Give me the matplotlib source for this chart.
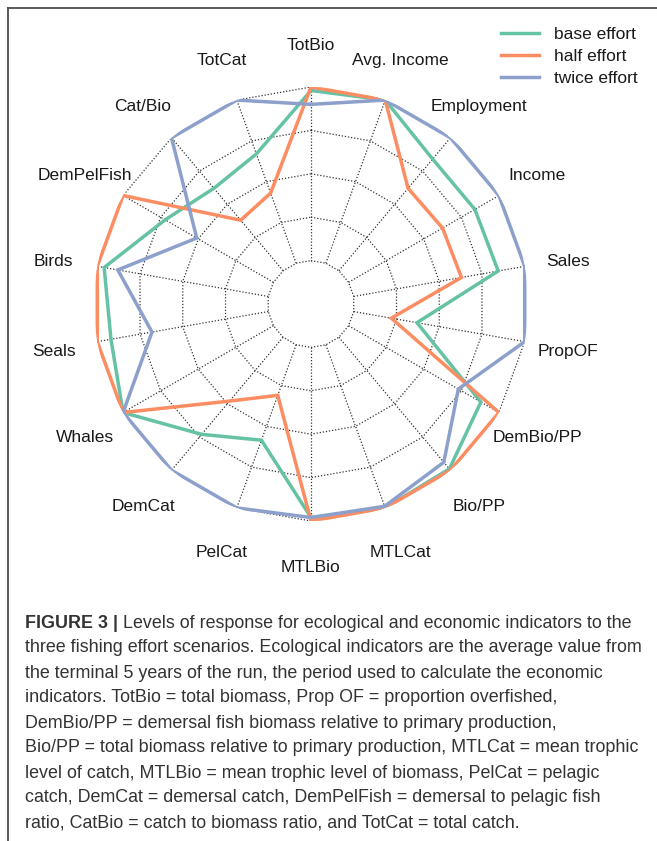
import numpy as np
import matplotlib
matplotlib.use("Agg")
import matplotlib.pyplot as plt
from matplotlib.lines import Line2D
from matplotlib.transforms import ScaledTranslation

plt.rcParams['font.family'] = ['Liberation Sans', 'DejaVu Sans']

indicators = ["TotBio", "Avg. Income", "Employment", "Income", "Sales", "PropOF",
              "DemBio/PP", "Bio/PP", "MTLCat", "MTLBio", "PelCat", "DemCat",
              "Whales", "Seals", "Birds", "DemPelFish", "Cat/Bio", "TotCat"]

base_effort = [0.98, 1.00, 0.84, 0.84, 0.845, 0.37, 0.88, 0.99, 1.00, 0.98,
               0.585, 0.73, 1.00, 0.92, 0.96, 0.72, 0.62, 0.67]
half_effort = [1.00, 1.00, 0.62, 0.625, 0.63, 0.22, 1.00, 1.00, 1.00, 1.00,
               0.31, 0.48, 1.00, 1.00, 1.00, 1.00, 0.38, 0.43]
twice_effort = [0.90, 1.00, 1.00, 1.00, 1.00, 1.00, 0.73, 0.94, 0.99, 0.98,
                1.00, 1.00, 1.00, 0.68, 0.88, 0.51, 1.00, 1.00]

series_names = ["base effort", "half effort", "twice effort"]
series_colors = ["#66c2a5", "#fc8d62", "#8da0cb"]
grid_levels = [0.0, 0.25, 0.5, 0.75, 1.0]

caption_bold = "FIGURE 3 |"
caption_lines = [
    " Levels of response for ecological and economic indicators to the",
    "three fishing effort scenarios. Ecological indicators are the average value from",
    "the terminal 5 years of the run, the period used to calculate the economic",
    "indicators. TotBio = total biomass, Prop OF = proportion overfished,",
    "DemBio/PP = demersal fish biomass relative to primary production,",
    "Bio/PP = total biomass relative to primary production, MTLCat = mean trophic",
    "level of catch, MTLBio = mean trophic level of biomass, PelCat = pelagic",
    "catch, DemCat = demersal catch, DemPelFish = demersal to pelagic fish",
    "ratio, CatBio = catch to biomass ratio, and TotCat = total catch.",
]

W, H = 657, 841
fig = plt.figure(figsize=(W / 100, H / 100), dpi=100)

# polar panel, centre hole of a quarter unit
cx, cy, R = 311, 304, 217
ax = fig.add_axes([(cx - R) / W, (H - cy - R) / H, 2 * R / W, 2 * R / H],
                  projection="polar")
ax.set_theta_zero_location("N")
ax.set_theta_direction(-1)
ax.set_ylim(-0.25, 1.0)
ax.axis("off")

n = len(indicators)
theta = np.arange(n) * 2 * np.pi / n
theta_closed = np.append(theta, theta[0])

grid_kw = dict(color="#333333", lw=0.9, ls=(0, (1, 1.5)), zorder=1)
for lev in grid_levels:
    ax.plot(theta_closed, np.full(n + 1, lev), **grid_kw)
for t in theta:
    ax.plot([t, t], [grid_levels[0], grid_levels[-1]], **grid_kw)

for vals, name, col in zip([base_effort, half_effort, twice_effort], series_names, series_colors):
    v = np.append(vals, vals[0])
    ax.plot(theta_closed, v, color=col, lw=2.5, label=name, zorder=3,
            solid_joinstyle="miter")

label_tr = ax.transData + ScaledTranslation(0, -2.5 / 100, fig.dpi_scale_trans)
for t, lab in zip(theta, indicators):
    ax.text(t, 1.255, lab, ha="center", va="center", fontsize=12.5,
            color="#1a1a1a", clip_on=False, transform=label_tr)

leg = fig.legend(loc="upper left", bbox_to_anchor=(501 / W, 1 - 27 / H),
                 frameon=False, fontsize=12.5, handlelength=2.2,
                 handletextpad=0.85, labelspacing=0.38, borderaxespad=0,
                 borderpad=0)
for txt in leg.get_texts():
    txt.set_color("#1a1a1a")

# frame
fig.add_artist(Line2D([8 / W, 8 / W], [0, 1 - 8 / H], color="#4d4d4d", lw=1.3))
fig.add_artist(Line2D([8 / W, 1], [1 - 8 / H, 1 - 8 / H], color="#4d4d4d", lw=1.3))

# caption
x0 = 25 / W
y0 = 1 - 623 / H
dy = 25 / H
cap_kw = dict(fontsize=12.9, color="#333333", va="center", ha="left")
tb = fig.text(x0, y0, caption_bold, fontweight="bold", **cap_kw)
fig.canvas.draw()
bb = tb.get_window_extent(renderer=fig.canvas.get_renderer())
fig.text(bb.x1 / W, y0, caption_lines[0], **cap_kw)
for i, line in enumerate(caption_lines[1:], start=1):
    fig.text(x0, y0 - i * dy, line, **cap_kw)

fig.savefig("out.png", dpi=100)
